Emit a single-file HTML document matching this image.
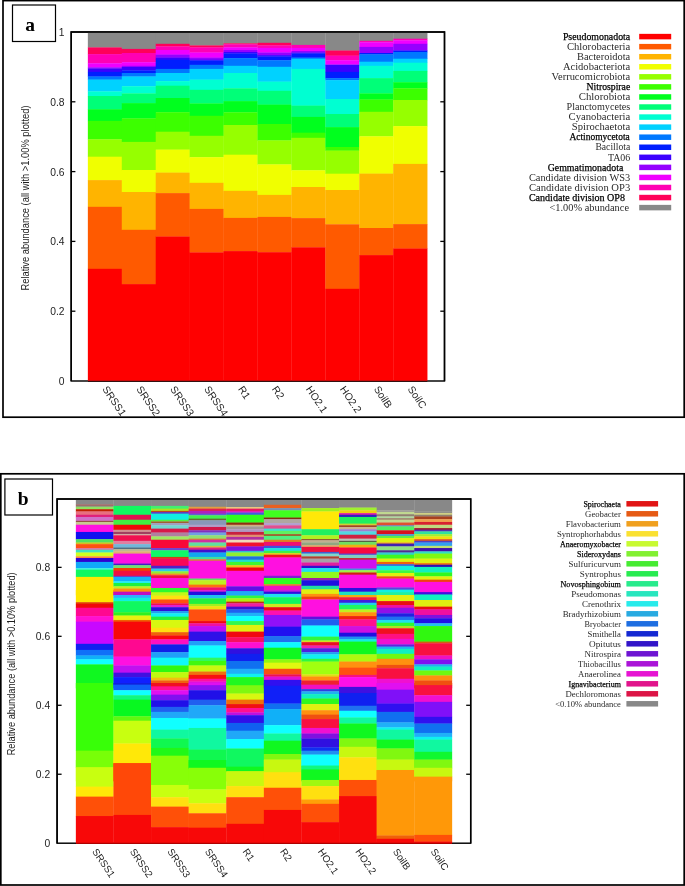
<!DOCTYPE html>
<html lang="en"><head><meta charset="utf-8"><title>Relative abundance</title>
<style>
html,body{margin:0;padding:0;background:#fff;}
body{width:685px;height:886px;overflow:hidden;}
svg{display:block;will-change:transform;}
.sans{font-family:"Liberation Sans",Arial,Helvetica,sans-serif;font-size:10.3px;fill:#1c1c1c;}
.ser{font-family:"Liberation Serif","Times New Roman",serif;font-size:10.2px;fill:#2a2a2a;}
.serb{font-family:"Liberation Serif","Times New Roman",serif;font-size:10.2px;fill:#000;stroke:#000;stroke-width:0.25px;}
.sb{font-size:8.9px;}
.xb{font-size:9.9px;}
.lab{font-family:"Liberation Serif","Times New Roman",serif;font-size:19.5px;font-weight:bold;fill:#000;}
</style></head><body>
<svg width="685" height="886" viewBox="0 0 685 886">
<rect x="0" y="0" width="685" height="886" fill="#fff"/>
<defs><filter id="ba" x="-2%" y="-2%" width="104%" height="104%" color-interpolation-filters="sRGB"><feGaussianBlur stdDeviation="0.4 0.55"/></filter><filter id="bb" x="-2%" y="-2%" width="104%" height="104%" color-interpolation-filters="sRGB"><feGaussianBlur stdDeviation="0.45 0.75"/></filter></defs>
<rect x="3" y="0.6" width="681.2" height="416.6" fill="none" stroke="#000" stroke-width="1.7"/>
<rect x="12.5" y="5" width="43" height="36.5" fill="#fff" stroke="#000" stroke-width="1.2"/>
<text class="lab" x="30" y="31.2" text-anchor="middle">a</text>
<rect x="71.2" y="32.0" width="373.3" height="349.0" fill="none" stroke="#000" stroke-width="1.45"/>
<g filter="url(#ba)">
<rect x="87.85" y="32.60" width="34.23" height="15.10" fill="#888888" />
<rect x="87.85" y="47.40" width="34.23" height="7.00" fill="#ff005a" />
<rect x="87.85" y="54.10" width="34.23" height="9.50" fill="#ff00b4" />
<rect x="87.85" y="63.30" width="34.23" height="4.30" fill="#f000ff" />
<rect x="87.85" y="67.30" width="34.23" height="1.50" fill="#9600ff" />
<rect x="87.85" y="68.50" width="34.23" height="3.70" fill="#3c00ff" />
<rect x="87.85" y="71.90" width="34.23" height="4.90" fill="#001eff" />
<rect x="87.85" y="76.50" width="34.23" height="3.40" fill="#0078ff" />
<rect x="87.85" y="79.60" width="34.23" height="12.10" fill="#00d2ff" />
<rect x="87.85" y="91.40" width="34.23" height="4.90" fill="#00ffd2" />
<rect x="87.85" y="96.00" width="34.23" height="13.50" fill="#00ff78" />
<rect x="87.85" y="109.20" width="34.23" height="12.00" fill="#00ff1e" />
<rect x="87.85" y="120.90" width="34.23" height="18.70" fill="#3cff00" />
<rect x="87.85" y="139.30" width="34.23" height="17.70" fill="#96ff00" />
<rect x="87.85" y="156.70" width="34.23" height="23.70" fill="#f0ff00" />
<rect x="87.85" y="180.10" width="34.23" height="27.00" fill="#ffb400" />
<rect x="87.85" y="206.80" width="34.23" height="62.30" fill="#ff5a00" />
<rect x="87.85" y="268.80" width="34.23" height="112.05" fill="#ff0000" />
<rect x="121.78" y="32.60" width="34.23" height="16.60" fill="#888888" />
<rect x="121.78" y="48.90" width="34.23" height="4.40" fill="#ff005a" />
<rect x="121.78" y="53.00" width="34.23" height="9.50" fill="#ff00b4" />
<rect x="121.78" y="62.20" width="34.23" height="3.90" fill="#f000ff" />
<rect x="121.78" y="65.80" width="34.23" height="1.50" fill="#9600ff" />
<rect x="121.78" y="67.00" width="34.23" height="3.70" fill="#3c00ff" />
<rect x="121.78" y="70.40" width="34.23" height="2.90" fill="#001eff" />
<rect x="121.78" y="73.00" width="34.23" height="3.80" fill="#0078ff" />
<rect x="121.78" y="76.50" width="34.23" height="10.00" fill="#00d2ff" />
<rect x="121.78" y="86.20" width="34.23" height="7.50" fill="#00ffd2" />
<rect x="121.78" y="93.40" width="34.23" height="10.00" fill="#00ff78" />
<rect x="121.78" y="103.10" width="34.23" height="15.60" fill="#00ff1e" />
<rect x="121.78" y="118.40" width="34.23" height="23.80" fill="#3cff00" />
<rect x="121.78" y="141.90" width="34.23" height="28.40" fill="#96ff00" />
<rect x="121.78" y="170.00" width="34.23" height="22.30" fill="#f0ff00" />
<rect x="121.78" y="192.00" width="34.23" height="38.10" fill="#ffb400" />
<rect x="121.78" y="229.80" width="34.23" height="54.60" fill="#ff5a00" />
<rect x="121.78" y="284.10" width="34.23" height="96.75" fill="#ff0000" />
<rect x="155.71" y="32.60" width="34.23" height="11.50" fill="#888888" />
<rect x="155.71" y="43.80" width="34.23" height="2.90" fill="#ff005a" />
<rect x="155.71" y="46.40" width="34.23" height="3.90" fill="#ff00b4" />
<rect x="155.71" y="50.00" width="34.23" height="4.90" fill="#f000ff" />
<rect x="155.71" y="54.60" width="34.23" height="3.30" fill="#9600ff" />
<rect x="155.71" y="57.60" width="34.23" height="2.40" fill="#3c00ff" />
<rect x="155.71" y="59.70" width="34.23" height="9.50" fill="#001eff" />
<rect x="155.71" y="68.90" width="34.23" height="4.40" fill="#0078ff" />
<rect x="155.71" y="73.00" width="34.23" height="8.40" fill="#00d2ff" />
<rect x="155.71" y="81.10" width="34.23" height="4.90" fill="#00ffd2" />
<rect x="155.71" y="85.70" width="34.23" height="12.60" fill="#00ff78" />
<rect x="155.71" y="98.00" width="34.23" height="14.50" fill="#00ff1e" />
<rect x="155.71" y="112.20" width="34.23" height="19.80" fill="#3cff00" />
<rect x="155.71" y="131.70" width="34.23" height="18.20" fill="#96ff00" />
<rect x="155.71" y="149.60" width="34.23" height="23.30" fill="#f0ff00" />
<rect x="155.71" y="172.60" width="34.23" height="20.80" fill="#ffb400" />
<rect x="155.71" y="193.10" width="34.23" height="43.70" fill="#ff5a00" />
<rect x="155.71" y="236.50" width="34.23" height="144.35" fill="#ff0000" />
<rect x="189.64" y="32.60" width="34.23" height="13.10" fill="#888888" />
<rect x="189.64" y="45.40" width="34.23" height="2.30" fill="#ff005a" />
<rect x="189.64" y="47.40" width="34.23" height="5.40" fill="#ff00b4" />
<rect x="189.64" y="52.50" width="34.23" height="5.40" fill="#f000ff" />
<rect x="189.64" y="57.60" width="34.23" height="2.40" fill="#9600ff" />
<rect x="189.64" y="59.70" width="34.23" height="1.10" fill="#3c00ff" />
<rect x="189.64" y="60.50" width="34.23" height="4.60" fill="#001eff" />
<rect x="189.64" y="64.80" width="34.23" height="4.40" fill="#0078ff" />
<rect x="189.64" y="68.90" width="34.23" height="11.00" fill="#00d2ff" />
<rect x="189.64" y="79.60" width="34.23" height="10.50" fill="#00ffd2" />
<rect x="189.64" y="89.80" width="34.23" height="13.90" fill="#00ff78" />
<rect x="189.64" y="103.40" width="34.23" height="12.70" fill="#00ff1e" />
<rect x="189.64" y="115.80" width="34.23" height="20.30" fill="#3cff00" />
<rect x="189.64" y="135.80" width="34.23" height="21.70" fill="#96ff00" />
<rect x="189.64" y="157.20" width="34.23" height="25.90" fill="#f0ff00" />
<rect x="189.64" y="182.80" width="34.23" height="26.40" fill="#ffb400" />
<rect x="189.64" y="208.90" width="34.23" height="43.80" fill="#ff5a00" />
<rect x="189.64" y="252.40" width="34.23" height="128.45" fill="#ff0000" />
<rect x="223.57" y="32.60" width="34.23" height="11.00" fill="#888888" />
<rect x="223.57" y="43.30" width="34.23" height="1.30" fill="#ff005a" />
<rect x="223.57" y="44.30" width="34.23" height="3.40" fill="#ff00b4" />
<rect x="223.57" y="47.40" width="34.23" height="2.90" fill="#f000ff" />
<rect x="223.57" y="50.00" width="34.23" height="2.30" fill="#9600ff" />
<rect x="223.57" y="52.00" width="34.23" height="1.80" fill="#3c00ff" />
<rect x="223.57" y="53.50" width="34.23" height="4.90" fill="#001eff" />
<rect x="223.57" y="58.10" width="34.23" height="8.00" fill="#0078ff" />
<rect x="223.57" y="65.80" width="34.23" height="7.50" fill="#00d2ff" />
<rect x="223.57" y="73.00" width="34.23" height="15.60" fill="#00ffd2" />
<rect x="223.57" y="88.30" width="34.23" height="13.10" fill="#00ff78" />
<rect x="223.57" y="101.10" width="34.23" height="11.50" fill="#00ff1e" />
<rect x="223.57" y="112.30" width="34.23" height="13.00" fill="#3cff00" />
<rect x="223.57" y="125.00" width="34.23" height="30.00" fill="#96ff00" />
<rect x="223.57" y="154.70" width="34.23" height="36.40" fill="#f0ff00" />
<rect x="223.57" y="190.80" width="34.23" height="27.40" fill="#ffb400" />
<rect x="223.57" y="217.90" width="34.23" height="33.50" fill="#ff5a00" />
<rect x="223.57" y="251.10" width="34.23" height="129.75" fill="#ff0000" />
<rect x="257.50" y="32.60" width="34.23" height="10.50" fill="#888888" />
<rect x="257.50" y="42.80" width="34.23" height="2.90" fill="#ff005a" />
<rect x="257.50" y="45.40" width="34.23" height="2.80" fill="#ff00b4" />
<rect x="257.50" y="47.90" width="34.23" height="4.90" fill="#f000ff" />
<rect x="257.50" y="52.50" width="34.23" height="2.90" fill="#9600ff" />
<rect x="257.50" y="55.10" width="34.23" height="1.70" fill="#3c00ff" />
<rect x="257.50" y="56.50" width="34.23" height="4.00" fill="#001eff" />
<rect x="257.50" y="60.20" width="34.23" height="6.90" fill="#0078ff" />
<rect x="257.50" y="66.80" width="34.23" height="15.10" fill="#00d2ff" />
<rect x="257.50" y="81.60" width="34.23" height="9.50" fill="#00ffd2" />
<rect x="257.50" y="90.80" width="34.23" height="14.10" fill="#00ff78" />
<rect x="257.50" y="104.60" width="34.23" height="19.70" fill="#00ff1e" />
<rect x="257.50" y="124.00" width="34.23" height="16.70" fill="#3cff00" />
<rect x="257.50" y="140.40" width="34.23" height="24.30" fill="#96ff00" />
<rect x="257.50" y="164.40" width="34.23" height="30.80" fill="#f0ff00" />
<rect x="257.50" y="194.90" width="34.23" height="22.30" fill="#ffb400" />
<rect x="257.50" y="216.90" width="34.23" height="35.60" fill="#ff5a00" />
<rect x="257.50" y="252.20" width="34.23" height="128.65" fill="#ff0000" />
<rect x="291.43" y="32.60" width="34.23" height="12.60" fill="#888888" />
<rect x="291.43" y="44.90" width="34.23" height="3.30" fill="#ff00b4" />
<rect x="291.43" y="47.90" width="34.23" height="3.40" fill="#f000ff" />
<rect x="291.43" y="51.00" width="34.23" height="1.80" fill="#9600ff" />
<rect x="291.43" y="52.50" width="34.23" height="1.30" fill="#3c00ff" />
<rect x="291.43" y="53.50" width="34.23" height="4.40" fill="#001eff" />
<rect x="291.43" y="57.60" width="34.23" height="1.40" fill="#0078ff" />
<rect x="291.43" y="58.70" width="34.23" height="10.50" fill="#00d2ff" />
<rect x="291.43" y="68.90" width="34.23" height="37.00" fill="#00ffd2" />
<rect x="291.43" y="105.60" width="34.23" height="11.60" fill="#00ff78" />
<rect x="291.43" y="116.90" width="34.23" height="16.10" fill="#00ff1e" />
<rect x="291.43" y="132.70" width="34.23" height="5.40" fill="#3cff00" />
<rect x="291.43" y="137.80" width="34.23" height="32.80" fill="#96ff00" />
<rect x="291.43" y="170.30" width="34.23" height="17.00" fill="#f0ff00" />
<rect x="291.43" y="187.00" width="34.23" height="31.40" fill="#ffb400" />
<rect x="291.43" y="218.10" width="34.23" height="29.50" fill="#ff5a00" />
<rect x="291.43" y="247.30" width="34.23" height="133.55" fill="#ff0000" />
<rect x="325.36" y="32.60" width="34.23" height="18.20" fill="#888888" />
<rect x="325.36" y="50.50" width="34.23" height="5.40" fill="#ff005a" />
<rect x="325.36" y="55.60" width="34.23" height="4.90" fill="#ff00b4" />
<rect x="325.36" y="60.20" width="34.23" height="4.40" fill="#f000ff" />
<rect x="325.36" y="64.30" width="34.23" height="1.00" fill="#9600ff" />
<rect x="325.36" y="65.00" width="34.23" height="7.20" fill="#3c00ff" />
<rect x="325.36" y="71.90" width="34.23" height="6.50" fill="#001eff" />
<rect x="325.36" y="78.10" width="34.23" height="2.30" fill="#0078ff" />
<rect x="325.36" y="80.10" width="34.23" height="19.20" fill="#00d2ff" />
<rect x="325.36" y="99.00" width="34.23" height="15.30" fill="#00ffd2" />
<rect x="325.36" y="114.00" width="34.23" height="13.40" fill="#00ff78" />
<rect x="325.36" y="127.10" width="34.23" height="20.20" fill="#00ff1e" />
<rect x="325.36" y="147.00" width="34.23" height="3.90" fill="#3cff00" />
<rect x="325.36" y="150.60" width="34.23" height="23.40" fill="#96ff00" />
<rect x="325.36" y="173.70" width="34.23" height="16.60" fill="#f0ff00" />
<rect x="325.36" y="190.00" width="34.23" height="34.60" fill="#ffb400" />
<rect x="325.36" y="224.30" width="34.23" height="64.80" fill="#ff5a00" />
<rect x="325.36" y="288.80" width="34.23" height="92.05" fill="#ff0000" />
<rect x="359.29" y="32.60" width="34.23" height="8.50" fill="#888888" />
<rect x="359.29" y="40.80" width="34.23" height="1.80" fill="#ff00b4" />
<rect x="359.29" y="42.30" width="34.23" height="4.90" fill="#f000ff" />
<rect x="359.29" y="46.90" width="34.23" height="6.40" fill="#9600ff" />
<rect x="359.29" y="53.00" width="34.23" height="1.70" fill="#001eff" />
<rect x="359.29" y="54.40" width="34.23" height="7.60" fill="#0078ff" />
<rect x="359.29" y="61.70" width="34.23" height="4.40" fill="#00d2ff" />
<rect x="359.29" y="65.80" width="34.23" height="12.60" fill="#00ffd2" />
<rect x="359.29" y="78.10" width="34.23" height="15.60" fill="#00ff78" />
<rect x="359.29" y="93.40" width="34.23" height="6.40" fill="#00ff1e" />
<rect x="359.29" y="99.50" width="34.23" height="12.60" fill="#3cff00" />
<rect x="359.29" y="111.80" width="34.23" height="24.80" fill="#96ff00" />
<rect x="359.29" y="136.30" width="34.23" height="37.60" fill="#f0ff00" />
<rect x="359.29" y="173.60" width="34.23" height="54.70" fill="#ffb400" />
<rect x="359.29" y="228.00" width="34.23" height="27.40" fill="#ff5a00" />
<rect x="359.29" y="255.10" width="34.23" height="125.75" fill="#ff0000" />
<rect x="393.22" y="32.60" width="34.23" height="6.40" fill="#888888" />
<rect x="393.22" y="38.70" width="34.23" height="1.90" fill="#ff00b4" />
<rect x="393.22" y="40.30" width="34.23" height="3.80" fill="#f000ff" />
<rect x="393.22" y="43.80" width="34.23" height="7.00" fill="#9600ff" />
<rect x="393.22" y="50.50" width="34.23" height="1.80" fill="#001eff" />
<rect x="393.22" y="52.00" width="34.23" height="7.00" fill="#0078ff" />
<rect x="393.22" y="58.70" width="34.23" height="4.30" fill="#00d2ff" />
<rect x="393.22" y="62.70" width="34.23" height="8.50" fill="#00ffd2" />
<rect x="393.22" y="70.90" width="34.23" height="11.60" fill="#00ff78" />
<rect x="393.22" y="82.20" width="34.23" height="6.40" fill="#00ff1e" />
<rect x="393.22" y="88.30" width="34.23" height="12.00" fill="#3cff00" />
<rect x="393.22" y="100.00" width="34.23" height="26.40" fill="#96ff00" />
<rect x="393.22" y="126.10" width="34.23" height="38.10" fill="#f0ff00" />
<rect x="393.22" y="163.90" width="34.23" height="60.50" fill="#ffb400" />
<rect x="393.22" y="224.10" width="34.23" height="24.70" fill="#ff5a00" />
<rect x="393.22" y="248.50" width="34.23" height="132.35" fill="#ff0000" />
</g>
<path d="M71.2,381.0 L71.2,32.0 L444.5,32.0 L444.5,381.0" fill="none" stroke="#000" stroke-width="1.45"/>
<line x1="88.00" y1="381.35" x2="427.30" y2="381.35" stroke="#300000" stroke-width="0.9"/>
<text class="sans" x="64.6" y="384.90" text-anchor="end">0</text>
<line x1="71.20" y1="311.20" x2="75.40" y2="311.20" stroke="#000" stroke-width="1.3"/>
<line x1="444.50" y1="311.20" x2="440.30" y2="311.20" stroke="#000" stroke-width="1.3"/>
<text class="sans" x="64.6" y="315.10" text-anchor="end">0.2</text>
<line x1="71.20" y1="241.40" x2="75.40" y2="241.40" stroke="#000" stroke-width="1.3"/>
<line x1="444.50" y1="241.40" x2="440.30" y2="241.40" stroke="#000" stroke-width="1.3"/>
<text class="sans" x="64.6" y="245.30" text-anchor="end">0.4</text>
<line x1="71.20" y1="171.60" x2="75.40" y2="171.60" stroke="#000" stroke-width="1.3"/>
<line x1="444.50" y1="171.60" x2="440.30" y2="171.60" stroke="#000" stroke-width="1.3"/>
<text class="sans" x="64.6" y="175.50" text-anchor="end">0.6</text>
<line x1="71.20" y1="101.80" x2="75.40" y2="101.80" stroke="#000" stroke-width="1.3"/>
<line x1="444.50" y1="101.80" x2="440.30" y2="101.80" stroke="#000" stroke-width="1.3"/>
<text class="sans" x="64.6" y="105.70" text-anchor="end">0.8</text>
<text class="sans" x="64.6" y="35.90" text-anchor="end">1</text>
<text class="sans" transform="translate(28.9,198) rotate(-90)" text-anchor="middle" textLength="185" lengthAdjust="spacingAndGlyphs">Relative abundance (all with &gt;1.00% plotted)</text>
<text class="sans" transform="translate(101.97,389.00) rotate(56)" >SRSS1</text>
<text class="sans" transform="translate(135.90,389.00) rotate(56)" >SRSS2</text>
<text class="sans" transform="translate(169.82,389.00) rotate(56)" >SRSS3</text>
<text class="sans" transform="translate(203.75,389.00) rotate(56)" >SRSS4</text>
<text class="sans" transform="translate(237.69,389.00) rotate(56)" >R1</text>
<text class="sans" transform="translate(271.62,389.00) rotate(56)" >R2</text>
<text class="sans" transform="translate(305.54,389.00) rotate(56)" >HO2.1</text>
<text class="sans" transform="translate(339.48,389.00) rotate(56)" >HO2.2</text>
<text class="sans" transform="translate(373.40,389.00) rotate(56)" >SoilB</text>
<text class="sans" transform="translate(407.34,389.00) rotate(56)" >SoilC</text>
<rect x="639.20" y="33.85" width="32.00" height="5.50" fill="#ff0000" />
<text class="serb" x="630.2" y="39.80" text-anchor="end" textLength="67.3" lengthAdjust="spacingAndGlyphs">Pseudomonadota</text>
<rect x="639.20" y="43.91" width="32.00" height="5.50" fill="#ff5a00" />
<text class="ser" x="630.2" y="49.86" text-anchor="end" textLength="63.3" lengthAdjust="spacingAndGlyphs">Chlorobacteria</text>
<rect x="639.20" y="53.97" width="32.00" height="5.50" fill="#ffb400" />
<text class="ser" x="630.2" y="59.92" text-anchor="end" textLength="53.2" lengthAdjust="spacingAndGlyphs">Bacteroidota</text>
<rect x="639.20" y="64.03" width="32.00" height="5.50" fill="#f0ff00" />
<text class="ser" x="630.2" y="69.98" text-anchor="end" textLength="67.3" lengthAdjust="spacingAndGlyphs">Acidobacteriota</text>
<rect x="639.20" y="74.09" width="32.00" height="5.50" fill="#96ff00" />
<text class="ser" x="630.2" y="80.04" text-anchor="end" textLength="78.6" lengthAdjust="spacingAndGlyphs">Verrucomicrobiota</text>
<rect x="639.20" y="84.15" width="32.00" height="5.50" fill="#3cff00" />
<text class="serb" x="630.2" y="90.10" text-anchor="end" textLength="43.6" lengthAdjust="spacingAndGlyphs">Nitrospirae</text>
<rect x="639.20" y="94.21" width="32.00" height="5.50" fill="#00ff1e" />
<text class="ser" x="630.2" y="100.16" text-anchor="end" textLength="51.5" lengthAdjust="spacingAndGlyphs">Chlorobiota</text>
<rect x="639.20" y="104.27" width="32.00" height="5.50" fill="#00ff78" />
<text class="ser" x="630.2" y="110.22" text-anchor="end" textLength="63.7" lengthAdjust="spacingAndGlyphs">Planctomycetes</text>
<rect x="639.20" y="114.33" width="32.00" height="5.50" fill="#00ffd2" />
<text class="ser" x="630.2" y="120.28" text-anchor="end" textLength="61.6" lengthAdjust="spacingAndGlyphs">Cyanobacteria</text>
<rect x="639.20" y="124.39" width="32.00" height="5.50" fill="#00d2ff" />
<text class="ser" x="630.2" y="130.34" text-anchor="end" textLength="58.4" lengthAdjust="spacingAndGlyphs">Spirochaetota</text>
<rect x="639.20" y="134.45" width="32.00" height="5.50" fill="#0078ff" />
<text class="serb" x="629.8" y="140.40" text-anchor="end" textLength="60.4" lengthAdjust="spacingAndGlyphs">Actinomycetota</text>
<rect x="639.20" y="144.51" width="32.00" height="5.50" fill="#001eff" />
<text class="ser" x="630.2" y="150.46" text-anchor="end" textLength="34.8" lengthAdjust="spacingAndGlyphs">Bacillota</text>
<rect x="639.20" y="154.57" width="32.00" height="5.50" fill="#3c00ff" />
<text class="ser" x="630.2" y="160.52" text-anchor="end" textLength="22.3" lengthAdjust="spacingAndGlyphs">TA06</text>
<rect x="639.20" y="164.63" width="32.00" height="5.50" fill="#9600ff" />
<text class="serb" x="623.3" y="170.58" text-anchor="end" textLength="75.6" lengthAdjust="spacingAndGlyphs">Gemmatimonadota</text>
<rect x="639.20" y="174.69" width="32.00" height="5.50" fill="#f000ff" />
<text class="ser" x="630.2" y="180.64" text-anchor="end" textLength="101.3" lengthAdjust="spacingAndGlyphs">Candidate division WS3</text>
<rect x="639.20" y="184.75" width="32.00" height="5.50" fill="#ff00b4" />
<text class="ser" x="630.2" y="190.70" text-anchor="end" textLength="101.3" lengthAdjust="spacingAndGlyphs">Candidate division OP3</text>
<rect x="639.20" y="194.81" width="32.00" height="5.50" fill="#ff005a" />
<text class="serb" x="625.0" y="200.76" text-anchor="end" textLength="96.1" lengthAdjust="spacingAndGlyphs">Candidate division OP8</text>
<rect x="639.20" y="204.87" width="32.00" height="5.50" fill="#888888" />
<text class="ser" x="629.0" y="210.82" text-anchor="end" textLength="79.5" lengthAdjust="spacingAndGlyphs">&lt;1.00% abundance</text>
<rect x="0.8" y="473.8" width="683.4" height="411.2" fill="none" stroke="#000" stroke-width="1.7"/>
<rect x="4.9" y="479" width="47.6" height="36" fill="#fff" stroke="#000" stroke-width="1.2"/>
<text class="lab" x="23.3" y="504.6" text-anchor="middle">b</text>
<rect x="57.1" y="499.0" width="413.59999999999997" height="344.20000000000005" fill="none" stroke="#000" stroke-width="1.45"/>
<g filter="url(#bb)">
<rect x="75.85" y="499.77" width="37.90" height="4.79" fill="#888888" />
<rect x="75.85" y="504.21" width="37.90" height="2.01" fill="#a06868" />
<rect x="75.85" y="505.88" width="37.90" height="1.46" fill="#90a080" />
<rect x="75.85" y="506.99" width="37.90" height="2.57" fill="#90e060" />
<rect x="75.85" y="509.20" width="37.90" height="2.57" fill="#c02000" />
<rect x="75.85" y="511.42" width="37.90" height="3.68" fill="#e87080" />
<rect x="75.85" y="514.75" width="37.90" height="2.57" fill="#e0207a" />
<rect x="75.85" y="516.97" width="37.90" height="4.23" fill="#d070c8" />
<rect x="75.85" y="520.85" width="37.90" height="1.46" fill="#905040" />
<rect x="75.85" y="521.96" width="37.90" height="3.12" fill="#c8c890" />
<rect x="75.85" y="524.74" width="37.90" height="7.56" fill="#ff10e0" />
<rect x="75.85" y="531.95" width="37.90" height="7.56" fill="#1010f0" />
<rect x="75.85" y="539.16" width="37.90" height="3.68" fill="#50e060" />
<rect x="75.85" y="542.49" width="37.90" height="2.01" fill="#d0c020" />
<rect x="75.85" y="544.15" width="37.90" height="4.23" fill="#ff5010" />
<rect x="75.85" y="548.04" width="37.90" height="2.01" fill="#e070a0" />
<rect x="75.85" y="549.70" width="37.90" height="3.12" fill="#40e0c0" />
<rect x="75.85" y="552.48" width="37.90" height="4.23" fill="#d0ff20" />
<rect x="75.85" y="556.36" width="37.90" height="2.01" fill="#ff8040" />
<rect x="75.85" y="558.02" width="37.90" height="4.23" fill="#3000d0" />
<rect x="75.85" y="561.91" width="37.90" height="6.45" fill="#10a8f8" />
<rect x="75.85" y="568.01" width="37.90" height="2.01" fill="#40f0e0" />
<rect x="75.85" y="569.67" width="37.90" height="7.56" fill="#10f860" />
<rect x="75.85" y="576.88" width="37.90" height="18.43" fill="#ffe800" />
<rect x="75.85" y="590.00" width="37.90" height="12.55" fill="#ffe800" />
<rect x="75.85" y="602.20" width="37.90" height="2.01" fill="#e04000" />
<rect x="75.85" y="603.87" width="37.90" height="4.23" fill="#f00808" />
<rect x="75.85" y="607.75" width="37.90" height="8.67" fill="#ff0890" />
<rect x="75.85" y="616.07" width="37.90" height="5.90" fill="#ff10d0" />
<rect x="75.85" y="621.62" width="37.90" height="22.54" fill="#c808ff" />
<rect x="75.85" y="643.81" width="37.90" height="6.45" fill="#1020f0" />
<rect x="75.85" y="649.91" width="37.90" height="5.90" fill="#1070f8" />
<rect x="75.85" y="655.46" width="37.90" height="4.23" fill="#10b0f8" />
<rect x="75.85" y="659.34" width="37.90" height="5.34" fill="#10ffff" />
<rect x="75.85" y="664.34" width="37.90" height="23.98" fill="#10f820" />
<rect x="75.85" y="683.00" width="37.90" height="68.03" fill="#38ff08" />
<rect x="75.85" y="750.68" width="37.90" height="16.99" fill="#78ff08" />
<rect x="75.85" y="767.32" width="37.90" height="14.00" fill="#c8ff10" />
<rect x="75.85" y="760.00" width="37.90" height="7.56" fill="#78ff08" />
<rect x="75.85" y="767.21" width="37.90" height="19.77" fill="#c8ff10" />
<rect x="75.85" y="786.63" width="37.90" height="10.34" fill="#ffe808" />
<rect x="75.85" y="796.61" width="37.90" height="19.77" fill="#ff5008" />
<rect x="75.85" y="816.03" width="37.90" height="27.02" fill="#f80808" />
<rect x="113.45" y="499.77" width="37.90" height="6.45" fill="#888888" />
<rect x="113.45" y="505.88" width="37.90" height="9.23" fill="#10f860" />
<rect x="113.45" y="514.75" width="37.90" height="5.34" fill="#e01050" />
<rect x="113.45" y="519.74" width="37.90" height="5.34" fill="#40f040" />
<rect x="113.45" y="524.74" width="37.90" height="5.34" fill="#f00808" />
<rect x="113.45" y="529.73" width="37.90" height="2.57" fill="#d09090" />
<rect x="113.45" y="531.95" width="37.90" height="2.57" fill="#a04060" />
<rect x="113.45" y="534.17" width="37.90" height="1.46" fill="#d0b0a0" />
<rect x="113.45" y="535.28" width="37.90" height="5.90" fill="#f01050" />
<rect x="113.45" y="540.83" width="37.90" height="3.68" fill="#e080a0" />
<rect x="113.45" y="544.15" width="37.90" height="3.68" fill="#70b8d8" />
<rect x="113.45" y="547.48" width="37.90" height="2.01" fill="#507080" />
<rect x="113.45" y="549.15" width="37.90" height="2.57" fill="#c0b890" />
<rect x="113.45" y="551.37" width="37.90" height="2.57" fill="#e0b070" />
<rect x="113.45" y="553.58" width="37.90" height="10.34" fill="#ff10e0" />
<rect x="113.45" y="563.57" width="37.90" height="2.01" fill="#4020c0" />
<rect x="113.45" y="565.23" width="37.90" height="3.12" fill="#70e070" />
<rect x="113.45" y="568.01" width="37.90" height="3.12" fill="#f04000" />
<rect x="113.45" y="570.78" width="37.90" height="5.34" fill="#f01040" />
<rect x="113.45" y="575.78" width="37.90" height="1.46" fill="#8030c0" />
<rect x="113.45" y="576.88" width="37.90" height="4.79" fill="#10b0ff" />
<rect x="113.45" y="581.32" width="37.90" height="2.01" fill="#20f0f0" />
<rect x="113.45" y="582.99" width="37.90" height="3.68" fill="#20f040" />
<rect x="113.45" y="586.32" width="37.90" height="2.57" fill="#c0f020" />
<rect x="113.45" y="588.53" width="37.90" height="3.68" fill="#ff9010" />
<rect x="113.45" y="591.86" width="37.90" height="3.46" fill="#c010c0" />
<rect x="113.45" y="590.00" width="37.90" height="2.01" fill="#ff9010" />
<rect x="113.45" y="591.66" width="37.90" height="3.68" fill="#c010c0" />
<rect x="113.45" y="594.99" width="37.90" height="3.12" fill="#30b0ff" />
<rect x="113.45" y="597.77" width="37.90" height="3.68" fill="#10f0e0" />
<rect x="113.45" y="601.10" width="37.90" height="11.45" fill="#10f860" />
<rect x="113.45" y="612.19" width="37.90" height="3.68" fill="#30f020" />
<rect x="113.45" y="615.52" width="37.90" height="4.79" fill="#e8f010" />
<rect x="113.45" y="619.96" width="37.90" height="2.01" fill="#f06000" />
<rect x="113.45" y="621.62" width="37.90" height="18.10" fill="#f80808" />
<rect x="113.45" y="639.37" width="37.90" height="17.55" fill="#ff0890" />
<rect x="113.45" y="656.57" width="37.90" height="9.23" fill="#ff10e0" />
<rect x="113.45" y="665.45" width="37.90" height="7.56" fill="#c010f0" />
<rect x="113.45" y="672.66" width="37.90" height="4.79" fill="#4010e0" />
<rect x="113.45" y="677.10" width="37.90" height="7.01" fill="#1020ff" />
<rect x="113.45" y="683.75" width="37.90" height="4.57" fill="#1060f8" />
<rect x="113.45" y="683.00" width="37.90" height="2.01" fill="#1020e0" />
<rect x="113.45" y="684.66" width="37.90" height="5.90" fill="#1060f8" />
<rect x="113.45" y="690.21" width="37.90" height="5.34" fill="#10ffff" />
<rect x="113.45" y="695.20" width="37.90" height="4.79" fill="#10f880" />
<rect x="113.45" y="699.64" width="37.90" height="16.99" fill="#08f820" />
<rect x="113.45" y="716.29" width="37.90" height="4.79" fill="#60f810" />
<rect x="113.45" y="720.72" width="37.90" height="23.09" fill="#c8ff10" />
<rect x="113.45" y="743.47" width="37.90" height="19.77" fill="#ffe808" />
<rect x="113.45" y="762.88" width="37.90" height="18.43" fill="#ff4808" />
<rect x="113.45" y="760.00" width="37.90" height="3.46" fill="#ffe808" />
<rect x="113.45" y="763.11" width="37.90" height="52.16" fill="#ff4808" />
<rect x="113.45" y="814.92" width="37.90" height="28.13" fill="#f80808" />
<rect x="151.05" y="499.77" width="37.90" height="6.45" fill="#888888" />
<rect x="151.05" y="505.88" width="37.90" height="3.12" fill="#40f070" />
<rect x="151.05" y="508.65" width="37.90" height="2.57" fill="#b0e020" />
<rect x="151.05" y="510.87" width="37.90" height="1.46" fill="#c04020" />
<rect x="151.05" y="511.98" width="37.90" height="2.01" fill="#6040c0" />
<rect x="151.05" y="513.64" width="37.90" height="6.45" fill="#10f0e0" />
<rect x="151.05" y="519.74" width="37.90" height="2.01" fill="#50f040" />
<rect x="151.05" y="521.41" width="37.90" height="2.01" fill="#a06030" />
<rect x="151.05" y="523.07" width="37.90" height="2.57" fill="#a0a0c0" />
<rect x="151.05" y="525.29" width="37.90" height="3.68" fill="#70d8d0" />
<rect x="151.05" y="528.62" width="37.90" height="4.23" fill="#d81848" />
<rect x="151.05" y="532.50" width="37.90" height="4.23" fill="#b080a0" />
<rect x="151.05" y="536.39" width="37.90" height="3.68" fill="#a0e860" />
<rect x="151.05" y="539.72" width="37.90" height="8.67" fill="#f80838" />
<rect x="151.05" y="548.04" width="37.90" height="2.57" fill="#7040d0" />
<rect x="151.05" y="550.26" width="37.90" height="7.01" fill="#10f868" />
<rect x="151.05" y="556.91" width="37.90" height="2.01" fill="#d04010" />
<rect x="151.05" y="558.58" width="37.90" height="7.56" fill="#f80858" />
<rect x="151.05" y="565.79" width="37.90" height="3.12" fill="#5020c8" />
<rect x="151.05" y="568.56" width="37.90" height="3.12" fill="#30c8e8" />
<rect x="151.05" y="571.34" width="37.90" height="2.57" fill="#90f030" />
<rect x="151.05" y="573.56" width="37.90" height="2.01" fill="#f09020" />
<rect x="151.05" y="575.22" width="37.90" height="3.12" fill="#f01040" />
<rect x="151.05" y="577.99" width="37.90" height="10.34" fill="#ff10d8" />
<rect x="151.05" y="587.98" width="37.90" height="7.34" fill="#30f830" />
<rect x="151.05" y="590.00" width="37.90" height="2.57" fill="#30f830" />
<rect x="151.05" y="592.22" width="37.90" height="3.68" fill="#c0f818" />
<rect x="151.05" y="595.55" width="37.90" height="4.23" fill="#ffe010" />
<rect x="151.05" y="599.43" width="37.90" height="4.23" fill="#ff5010" />
<rect x="151.05" y="603.31" width="37.90" height="2.01" fill="#f01050" />
<rect x="151.05" y="604.98" width="37.90" height="2.57" fill="#e020d0" />
<rect x="151.05" y="607.20" width="37.90" height="4.23" fill="#3010d8" />
<rect x="151.05" y="611.08" width="37.90" height="2.57" fill="#20a0f0" />
<rect x="151.05" y="613.30" width="37.90" height="3.68" fill="#10f0f0" />
<rect x="151.05" y="616.63" width="37.90" height="3.68" fill="#20f040" />
<rect x="151.05" y="619.96" width="37.90" height="8.12" fill="#d8f810" />
<rect x="151.05" y="627.72" width="37.90" height="4.79" fill="#ffe010" />
<rect x="151.05" y="632.16" width="37.90" height="3.68" fill="#f06008" />
<rect x="151.05" y="635.49" width="37.90" height="4.23" fill="#f80810" />
<rect x="151.05" y="639.37" width="37.90" height="5.34" fill="#ff10c0" />
<rect x="151.05" y="644.37" width="37.90" height="8.12" fill="#1020e8" />
<rect x="151.05" y="652.13" width="37.90" height="5.90" fill="#20a0f8" />
<rect x="151.05" y="657.68" width="37.90" height="8.12" fill="#10f8f8" />
<rect x="151.05" y="665.45" width="37.90" height="7.01" fill="#30f810" />
<rect x="151.05" y="672.10" width="37.90" height="5.90" fill="#c0f810" />
<rect x="151.05" y="677.65" width="37.90" height="3.12" fill="#f0c010" />
<rect x="151.05" y="680.42" width="37.90" height="3.12" fill="#f06010" />
<rect x="151.05" y="683.20" width="37.90" height="5.12" fill="#f80840" />
<rect x="151.05" y="683.00" width="37.90" height="3.68" fill="#f01020" />
<rect x="151.05" y="686.33" width="37.90" height="4.23" fill="#ff1090" />
<rect x="151.05" y="690.21" width="37.90" height="4.79" fill="#e010f0" />
<rect x="151.05" y="694.65" width="37.90" height="5.90" fill="#8010f0" />
<rect x="151.05" y="700.20" width="37.90" height="7.01" fill="#2010e8" />
<rect x="151.05" y="706.85" width="37.90" height="5.34" fill="#2060f0" />
<rect x="151.05" y="711.85" width="37.90" height="6.45" fill="#20a8f8" />
<rect x="151.05" y="717.95" width="37.90" height="12.00" fill="#10ffff" />
<rect x="151.05" y="729.60" width="37.90" height="9.23" fill="#10f8a0" />
<rect x="151.05" y="738.48" width="37.90" height="9.78" fill="#10f850" />
<rect x="151.05" y="747.91" width="37.90" height="8.12" fill="#20f818" />
<rect x="151.05" y="755.67" width="37.90" height="25.65" fill="#88ff08" />
<rect x="151.05" y="760.00" width="37.90" height="25.31" fill="#88ff08" />
<rect x="151.05" y="784.96" width="37.90" height="12.55" fill="#c8ff10" />
<rect x="151.05" y="797.17" width="37.90" height="9.78" fill="#ffe010" />
<rect x="151.05" y="806.60" width="37.90" height="20.88" fill="#ff5008" />
<rect x="151.05" y="827.13" width="37.90" height="15.92" fill="#f80808" />
<rect x="188.65" y="499.77" width="37.90" height="7.34" fill="#888888" />
<rect x="188.65" y="506.76" width="37.90" height="2.24" fill="#e0a040" />
<rect x="188.65" y="508.65" width="37.90" height="2.57" fill="#e02050" />
<rect x="188.65" y="510.87" width="37.90" height="3.12" fill="#b020c0" />
<rect x="188.65" y="513.64" width="37.90" height="2.01" fill="#6060d0" />
<rect x="188.65" y="515.31" width="37.90" height="3.68" fill="#40f050" />
<rect x="188.65" y="518.64" width="37.90" height="2.01" fill="#607030" />
<rect x="188.65" y="520.30" width="37.90" height="4.79" fill="#8898b8" />
<rect x="188.65" y="524.74" width="37.90" height="2.57" fill="#b0a0c8" />
<rect x="188.65" y="526.96" width="37.90" height="3.68" fill="#d01848" />
<rect x="188.65" y="530.29" width="37.90" height="2.57" fill="#8030c0" />
<rect x="188.65" y="532.50" width="37.90" height="3.12" fill="#70a0e0" />
<rect x="188.65" y="535.28" width="37.90" height="3.68" fill="#90e070" />
<rect x="188.65" y="538.61" width="37.90" height="1.46" fill="#e08030" />
<rect x="188.65" y="539.72" width="37.90" height="3.12" fill="#d030a0" />
<rect x="188.65" y="542.49" width="37.90" height="3.68" fill="#60e0a0" />
<rect x="188.65" y="545.82" width="37.90" height="2.01" fill="#d0c040" />
<rect x="188.65" y="547.48" width="37.90" height="2.57" fill="#e02080" />
<rect x="188.65" y="549.70" width="37.90" height="3.12" fill="#4010d0" />
<rect x="188.65" y="552.48" width="37.90" height="4.79" fill="#10a8f0" />
<rect x="188.65" y="556.91" width="37.90" height="2.57" fill="#40e0a0" />
<rect x="188.65" y="559.13" width="37.90" height="2.01" fill="#d08040" />
<rect x="188.65" y="560.80" width="37.90" height="18.10" fill="#ff10e0" />
<rect x="188.65" y="578.55" width="37.90" height="2.01" fill="#60e060" />
<rect x="188.65" y="580.21" width="37.90" height="4.79" fill="#c0f020" />
<rect x="188.65" y="584.65" width="37.90" height="3.12" fill="#ff7010" />
<rect x="188.65" y="587.42" width="37.90" height="3.12" fill="#f01070" />
<rect x="188.65" y="590.20" width="37.90" height="5.12" fill="#2010e0" />
<rect x="188.65" y="590.00" width="37.90" height="2.01" fill="#e020d0" />
<rect x="188.65" y="591.66" width="37.90" height="3.68" fill="#2010e0" />
<rect x="188.65" y="594.99" width="37.90" height="3.68" fill="#20c0f0" />
<rect x="188.65" y="598.32" width="37.90" height="5.90" fill="#20f040" />
<rect x="188.65" y="603.87" width="37.90" height="2.57" fill="#a0f020" />
<rect x="188.65" y="606.09" width="37.90" height="3.68" fill="#f0e010" />
<rect x="188.65" y="609.42" width="37.90" height="12.00" fill="#ff5010" />
<rect x="188.65" y="621.07" width="37.90" height="2.57" fill="#f00810" />
<rect x="188.65" y="623.29" width="37.90" height="3.12" fill="#f010a0" />
<rect x="188.65" y="626.06" width="37.90" height="5.90" fill="#c010f0" />
<rect x="188.65" y="631.61" width="37.90" height="9.78" fill="#3010e8" />
<rect x="188.65" y="641.04" width="37.90" height="4.79" fill="#20a0f8" />
<rect x="188.65" y="645.48" width="37.90" height="12.55" fill="#10ffff" />
<rect x="188.65" y="657.68" width="37.90" height="3.68" fill="#30f860" />
<rect x="188.65" y="661.01" width="37.90" height="4.79" fill="#40f810" />
<rect x="188.65" y="665.45" width="37.90" height="6.45" fill="#c8f810" />
<rect x="188.65" y="671.55" width="37.90" height="3.68" fill="#f07010" />
<rect x="188.65" y="674.88" width="37.90" height="4.23" fill="#f81010" />
<rect x="188.65" y="678.76" width="37.90" height="3.12" fill="#ff10a0" />
<rect x="188.65" y="681.53" width="37.90" height="2.57" fill="#e010e0" />
<rect x="188.65" y="683.75" width="37.90" height="4.57" fill="#b010f0" />
<rect x="188.65" y="683.00" width="37.90" height="2.57" fill="#e010f0" />
<rect x="188.65" y="685.22" width="37.90" height="5.34" fill="#9010f0" />
<rect x="188.65" y="690.21" width="37.90" height="9.78" fill="#2010e8" />
<rect x="188.65" y="699.64" width="37.90" height="5.90" fill="#2060f0" />
<rect x="188.65" y="705.19" width="37.90" height="13.66" fill="#20a8f8" />
<rect x="188.65" y="718.50" width="37.90" height="9.78" fill="#10ffff" />
<rect x="188.65" y="727.94" width="37.90" height="21.99" fill="#10f8a0" />
<rect x="188.65" y="749.57" width="37.90" height="12.55" fill="#10f850" />
<rect x="188.65" y="761.78" width="37.90" height="7.56" fill="#10f820" />
<rect x="188.65" y="768.99" width="37.90" height="12.33" fill="#88ff08" />
<rect x="188.65" y="760.00" width="37.90" height="8.12" fill="#10f820" />
<rect x="188.65" y="767.77" width="37.90" height="21.99" fill="#88ff08" />
<rect x="188.65" y="789.40" width="37.90" height="14.22" fill="#c8ff10" />
<rect x="188.65" y="803.27" width="37.90" height="10.34" fill="#ffe010" />
<rect x="188.65" y="813.26" width="37.90" height="14.77" fill="#ff5008" />
<rect x="188.65" y="827.68" width="37.90" height="15.37" fill="#f80808" />
<rect x="226.25" y="499.77" width="37.90" height="7.56" fill="#888888" />
<rect x="226.25" y="506.99" width="37.90" height="2.01" fill="#e8c880" />
<rect x="226.25" y="508.65" width="37.90" height="2.57" fill="#e81860" />
<rect x="226.25" y="510.87" width="37.90" height="2.01" fill="#e020c0" />
<rect x="226.25" y="512.53" width="37.90" height="2.57" fill="#4060e0" />
<rect x="226.25" y="514.75" width="37.90" height="8.12" fill="#30ff20" />
<rect x="226.25" y="522.52" width="37.90" height="2.57" fill="#903010" />
<rect x="226.25" y="524.74" width="37.90" height="2.01" fill="#d0b080" />
<rect x="226.25" y="526.40" width="37.90" height="3.12" fill="#a09898" />
<rect x="226.25" y="529.18" width="37.90" height="3.12" fill="#b098c0" />
<rect x="226.25" y="531.95" width="37.90" height="3.12" fill="#c82040" />
<rect x="226.25" y="534.72" width="37.90" height="2.57" fill="#e09070" />
<rect x="226.25" y="536.94" width="37.90" height="3.12" fill="#b030a0" />
<rect x="226.25" y="539.72" width="37.90" height="3.12" fill="#f0d8b8" />
<rect x="226.25" y="542.49" width="37.90" height="4.23" fill="#f01030" />
<rect x="226.25" y="546.37" width="37.90" height="4.79" fill="#8010e0" />
<rect x="226.25" y="550.81" width="37.90" height="2.01" fill="#30c0d0" />
<rect x="226.25" y="552.48" width="37.90" height="4.23" fill="#90f030" />
<rect x="226.25" y="556.36" width="37.90" height="3.68" fill="#2070e0" />
<rect x="226.25" y="559.69" width="37.90" height="2.57" fill="#20e0d0" />
<rect x="226.25" y="561.91" width="37.90" height="3.68" fill="#40f830" />
<rect x="226.25" y="565.23" width="37.90" height="2.57" fill="#f0c010" />
<rect x="226.25" y="567.45" width="37.90" height="3.68" fill="#f00810" />
<rect x="226.25" y="570.78" width="37.90" height="15.88" fill="#ff10e0" />
<rect x="226.25" y="586.32" width="37.90" height="4.23" fill="#6010e8" />
<rect x="226.25" y="590.20" width="37.90" height="5.12" fill="#20a8f8" />
<rect x="226.25" y="590.00" width="37.90" height="1.46" fill="#6010e8" />
<rect x="226.25" y="591.11" width="37.90" height="4.79" fill="#20a8f8" />
<rect x="226.25" y="595.55" width="37.90" height="3.12" fill="#30f840" />
<rect x="226.25" y="598.32" width="37.90" height="3.68" fill="#b0f010" />
<rect x="226.25" y="601.65" width="37.90" height="2.01" fill="#c03010" />
<rect x="226.25" y="603.31" width="37.90" height="3.68" fill="#f020a0" />
<rect x="226.25" y="606.64" width="37.90" height="3.12" fill="#4010d0" />
<rect x="226.25" y="609.42" width="37.90" height="3.68" fill="#2060f0" />
<rect x="226.25" y="612.74" width="37.90" height="3.68" fill="#20b0f8" />
<rect x="226.25" y="616.07" width="37.90" height="5.34" fill="#10ffff" />
<rect x="226.25" y="621.07" width="37.90" height="4.23" fill="#30f850" />
<rect x="226.25" y="624.95" width="37.90" height="7.01" fill="#e0f010" />
<rect x="226.25" y="631.61" width="37.90" height="5.90" fill="#f00810" />
<rect x="226.25" y="637.15" width="37.90" height="5.34" fill="#f81060" />
<rect x="226.25" y="642.15" width="37.90" height="6.45" fill="#ff10d0" />
<rect x="226.25" y="648.25" width="37.90" height="5.90" fill="#3010e0" />
<rect x="226.25" y="653.80" width="37.90" height="7.56" fill="#1020f0" />
<rect x="226.25" y="661.01" width="37.90" height="8.12" fill="#1070f0" />
<rect x="226.25" y="668.78" width="37.90" height="5.34" fill="#20b0f8" />
<rect x="226.25" y="673.77" width="37.90" height="3.68" fill="#10f0f0" />
<rect x="226.25" y="677.10" width="37.90" height="11.22" fill="#20f820" />
<rect x="226.25" y="683.00" width="37.90" height="2.57" fill="#20f820" />
<rect x="226.25" y="685.22" width="37.90" height="8.67" fill="#80f810" />
<rect x="226.25" y="693.54" width="37.90" height="6.45" fill="#d8f810" />
<rect x="226.25" y="699.64" width="37.90" height="4.79" fill="#f07008" />
<rect x="226.25" y="704.08" width="37.90" height="4.23" fill="#f01010" />
<rect x="226.25" y="707.96" width="37.90" height="4.79" fill="#ff1090" />
<rect x="226.25" y="712.40" width="37.90" height="3.12" fill="#c010e0" />
<rect x="226.25" y="715.18" width="37.90" height="8.12" fill="#3010e8" />
<rect x="226.25" y="722.94" width="37.90" height="8.12" fill="#1060f0" />
<rect x="226.25" y="730.71" width="37.90" height="8.67" fill="#20a8f8" />
<rect x="226.25" y="739.03" width="37.90" height="9.78" fill="#10ffff" />
<rect x="226.25" y="748.46" width="37.90" height="19.21" fill="#10f860" />
<rect x="226.25" y="767.32" width="37.90" height="4.79" fill="#10f820" />
<rect x="226.25" y="771.76" width="37.90" height="9.56" fill="#c0f810" />
<rect x="226.25" y="760.00" width="37.90" height="7.01" fill="#10f860" />
<rect x="226.25" y="766.66" width="37.90" height="4.79" fill="#10f820" />
<rect x="226.25" y="771.10" width="37.90" height="15.33" fill="#c8f810" />
<rect x="226.25" y="786.07" width="37.90" height="11.45" fill="#ffe010" />
<rect x="226.25" y="797.17" width="37.90" height="26.98" fill="#ff5008" />
<rect x="226.25" y="823.80" width="37.90" height="19.25" fill="#f80808" />
<rect x="263.85" y="499.77" width="37.90" height="5.34" fill="#888888" />
<rect x="263.85" y="504.77" width="37.90" height="3.68" fill="#e86020" />
<rect x="263.85" y="508.10" width="37.90" height="2.57" fill="#7890b0" />
<rect x="263.85" y="510.31" width="37.90" height="7.56" fill="#40ff20" />
<rect x="263.85" y="517.53" width="37.90" height="2.01" fill="#803010" />
<rect x="263.85" y="519.19" width="37.90" height="4.23" fill="#b0a8a0" />
<rect x="263.85" y="523.07" width="37.90" height="2.57" fill="#b0a0d0" />
<rect x="263.85" y="525.29" width="37.90" height="3.68" fill="#e05090" />
<rect x="263.85" y="528.62" width="37.90" height="2.57" fill="#40e0d0" />
<rect x="263.85" y="530.84" width="37.90" height="3.68" fill="#60f060" />
<rect x="263.85" y="534.17" width="37.90" height="2.01" fill="#a05020" />
<rect x="263.85" y="535.83" width="37.90" height="4.23" fill="#50f080" />
<rect x="263.85" y="539.72" width="37.90" height="2.57" fill="#e08020" />
<rect x="263.85" y="541.94" width="37.90" height="4.23" fill="#f01070" />
<rect x="263.85" y="545.82" width="37.90" height="2.57" fill="#4050e0" />
<rect x="263.85" y="548.04" width="37.90" height="3.12" fill="#20e0e0" />
<rect x="263.85" y="550.81" width="37.90" height="2.57" fill="#40f040" />
<rect x="263.85" y="553.03" width="37.90" height="2.01" fill="#e0d020" />
<rect x="263.85" y="554.69" width="37.90" height="3.12" fill="#f01020" />
<rect x="263.85" y="557.47" width="37.90" height="18.66" fill="#ff10e0" />
<rect x="263.85" y="575.78" width="37.90" height="2.57" fill="#8020d0" />
<rect x="263.85" y="577.99" width="37.90" height="6.45" fill="#30ff20" />
<rect x="263.85" y="584.10" width="37.90" height="2.01" fill="#e08030" />
<rect x="263.85" y="585.76" width="37.90" height="5.34" fill="#f010c0" />
<rect x="263.85" y="590.75" width="37.90" height="4.57" fill="#3010e0" />
<rect x="263.85" y="590.00" width="37.90" height="2.01" fill="#c020e0" />
<rect x="263.85" y="591.66" width="37.90" height="2.57" fill="#3010e0" />
<rect x="263.85" y="593.88" width="37.90" height="3.68" fill="#20e0f0" />
<rect x="263.85" y="597.21" width="37.90" height="7.01" fill="#10f860" />
<rect x="263.85" y="603.87" width="37.90" height="3.68" fill="#d0e820" />
<rect x="263.85" y="607.20" width="37.90" height="3.68" fill="#e81010" />
<rect x="263.85" y="610.53" width="37.90" height="4.79" fill="#ff10b0" />
<rect x="263.85" y="614.96" width="37.90" height="12.00" fill="#9010f8" />
<rect x="263.85" y="626.61" width="37.90" height="9.78" fill="#2010f0" />
<rect x="263.85" y="636.04" width="37.90" height="6.45" fill="#2070f0" />
<rect x="263.85" y="642.15" width="37.90" height="5.90" fill="#10f8ff" />
<rect x="263.85" y="647.69" width="37.90" height="12.00" fill="#10f820" />
<rect x="263.85" y="659.34" width="37.90" height="3.68" fill="#90f810" />
<rect x="263.85" y="662.67" width="37.90" height="6.45" fill="#e0f810" />
<rect x="263.85" y="668.78" width="37.90" height="5.90" fill="#f85010" />
<rect x="263.85" y="674.32" width="37.90" height="2.57" fill="#f01050" />
<rect x="263.85" y="676.54" width="37.90" height="3.68" fill="#e010d0" />
<rect x="263.85" y="679.87" width="37.90" height="8.45" fill="#3010f0" />
<rect x="263.85" y="683.00" width="37.90" height="3.12" fill="#3010f0" />
<rect x="263.85" y="685.77" width="37.90" height="18.10" fill="#1020f8" />
<rect x="263.85" y="703.53" width="37.90" height="5.90" fill="#1070f0" />
<rect x="263.85" y="709.07" width="37.90" height="16.44" fill="#10b0f8" />
<rect x="263.85" y="725.16" width="37.90" height="8.67" fill="#10ffff" />
<rect x="263.85" y="733.48" width="37.90" height="7.56" fill="#10f8a0" />
<rect x="263.85" y="740.69" width="37.90" height="13.66" fill="#10f820" />
<rect x="263.85" y="754.01" width="37.90" height="5.90" fill="#80f810" />
<rect x="263.85" y="759.56" width="37.90" height="13.66" fill="#c8f810" />
<rect x="263.85" y="772.87" width="37.90" height="8.45" fill="#ffe010" />
<rect x="263.85" y="760.00" width="37.90" height="12.55" fill="#c8f810" />
<rect x="263.85" y="772.20" width="37.90" height="15.88" fill="#ffe010" />
<rect x="263.85" y="787.74" width="37.90" height="22.54" fill="#ff5008" />
<rect x="263.85" y="809.93" width="37.90" height="33.12" fill="#f80808" />
<rect x="301.45" y="499.77" width="37.90" height="8.67" fill="#888888" />
<rect x="301.45" y="508.10" width="37.90" height="3.68" fill="#a0f020" />
<rect x="301.45" y="511.42" width="37.90" height="18.10" fill="#ffe808" />
<rect x="301.45" y="529.18" width="37.90" height="6.45" fill="#20f060" />
<rect x="301.45" y="535.28" width="37.90" height="4.23" fill="#b0f020" />
<rect x="301.45" y="539.16" width="37.90" height="1.46" fill="#804020" />
<rect x="301.45" y="540.27" width="37.90" height="2.57" fill="#c0b090" />
<rect x="301.45" y="542.49" width="37.90" height="3.12" fill="#90a880" />
<rect x="301.45" y="545.26" width="37.90" height="2.01" fill="#e0a060" />
<rect x="301.45" y="546.93" width="37.90" height="5.34" fill="#f01040" />
<rect x="301.45" y="551.92" width="37.90" height="2.01" fill="#4060d0" />
<rect x="301.45" y="553.58" width="37.90" height="3.12" fill="#80d8c8" />
<rect x="301.45" y="556.36" width="37.90" height="2.57" fill="#b04030" />
<rect x="301.45" y="558.58" width="37.90" height="4.23" fill="#a8a0a8" />
<rect x="301.45" y="562.46" width="37.90" height="3.68" fill="#e020a0" />
<rect x="301.45" y="565.79" width="37.90" height="2.57" fill="#3010d0" />
<rect x="301.45" y="568.01" width="37.90" height="4.23" fill="#20e0f0" />
<rect x="301.45" y="571.89" width="37.90" height="6.45" fill="#90f820" />
<rect x="301.45" y="577.99" width="37.90" height="2.57" fill="#a020a0" />
<rect x="301.45" y="580.21" width="37.90" height="5.90" fill="#2010e0" />
<rect x="301.45" y="585.76" width="37.90" height="3.68" fill="#20e0a0" />
<rect x="301.45" y="589.09" width="37.90" height="6.23" fill="#b0f020" />
<rect x="301.45" y="590.00" width="37.90" height="4.23" fill="#e0f010" />
<rect x="301.45" y="593.88" width="37.90" height="3.12" fill="#ff9010" />
<rect x="301.45" y="596.66" width="37.90" height="3.12" fill="#f04010" />
<rect x="301.45" y="599.43" width="37.90" height="17.55" fill="#ff10e0" />
<rect x="301.45" y="616.63" width="37.90" height="3.12" fill="#6010e0" />
<rect x="301.45" y="619.40" width="37.90" height="6.45" fill="#2060f0" />
<rect x="301.45" y="625.50" width="37.90" height="11.45" fill="#10ffff" />
<rect x="301.45" y="636.60" width="37.90" height="4.23" fill="#30f840" />
<rect x="301.45" y="640.48" width="37.90" height="2.01" fill="#d0e020" />
<rect x="301.45" y="642.15" width="37.90" height="3.68" fill="#e81020" />
<rect x="301.45" y="645.48" width="37.90" height="3.12" fill="#f020b0" />
<rect x="301.45" y="648.25" width="37.90" height="4.23" fill="#5020e0" />
<rect x="301.45" y="652.13" width="37.90" height="2.57" fill="#20a0f0" />
<rect x="301.45" y="654.35" width="37.90" height="4.79" fill="#10f0f0" />
<rect x="301.45" y="658.79" width="37.90" height="3.12" fill="#30f840" />
<rect x="301.45" y="661.56" width="37.90" height="13.11" fill="#a0ff10" />
<rect x="301.45" y="674.32" width="37.90" height="2.57" fill="#e0e010" />
<rect x="301.45" y="676.54" width="37.90" height="4.23" fill="#ff9010" />
<rect x="301.45" y="680.42" width="37.90" height="3.68" fill="#f02030" />
<rect x="301.45" y="683.75" width="37.90" height="4.57" fill="#f010c0" />
<rect x="301.45" y="683.00" width="37.90" height="2.01" fill="#f02030" />
<rect x="301.45" y="684.66" width="37.90" height="4.79" fill="#f010c0" />
<rect x="301.45" y="689.10" width="37.90" height="2.57" fill="#3040e0" />
<rect x="301.45" y="691.32" width="37.90" height="3.12" fill="#20b0f0" />
<rect x="301.45" y="694.10" width="37.90" height="4.79" fill="#10f0c0" />
<rect x="301.45" y="698.53" width="37.90" height="5.90" fill="#30f820" />
<rect x="301.45" y="704.08" width="37.90" height="6.45" fill="#e0f010" />
<rect x="301.45" y="710.18" width="37.90" height="4.79" fill="#ff9010" />
<rect x="301.45" y="714.62" width="37.90" height="4.79" fill="#f05010" />
<rect x="301.45" y="719.06" width="37.90" height="9.23" fill="#f81040" />
<rect x="301.45" y="727.94" width="37.90" height="5.90" fill="#f010d0" />
<rect x="301.45" y="733.48" width="37.90" height="5.34" fill="#8010e0" />
<rect x="301.45" y="738.48" width="37.90" height="9.23" fill="#3010e0" />
<rect x="301.45" y="747.35" width="37.90" height="3.68" fill="#1030f0" />
<rect x="301.45" y="750.68" width="37.90" height="4.23" fill="#2090f0" />
<rect x="301.45" y="754.56" width="37.90" height="11.45" fill="#10ffff" />
<rect x="301.45" y="765.66" width="37.90" height="5.34" fill="#10f880" />
<rect x="301.45" y="770.65" width="37.90" height="10.67" fill="#20f820" />
<rect x="301.45" y="760.00" width="37.90" height="5.90" fill="#10ffff" />
<rect x="301.45" y="765.55" width="37.90" height="4.23" fill="#10f880" />
<rect x="301.45" y="769.43" width="37.90" height="10.89" fill="#10f820" />
<rect x="301.45" y="779.97" width="37.90" height="6.45" fill="#a0f810" />
<rect x="301.45" y="786.07" width="37.90" height="13.66" fill="#ffe010" />
<rect x="301.45" y="799.39" width="37.90" height="4.79" fill="#ffa008" />
<rect x="301.45" y="803.83" width="37.90" height="18.66" fill="#ff5008" />
<rect x="301.45" y="822.13" width="37.90" height="20.92" fill="#f80808" />
<rect x="339.05" y="499.77" width="37.90" height="8.12" fill="#888888" />
<rect x="339.05" y="507.54" width="37.90" height="3.12" fill="#a0f030" />
<rect x="339.05" y="510.31" width="37.90" height="3.12" fill="#f0d010" />
<rect x="339.05" y="513.09" width="37.90" height="2.01" fill="#e020a0" />
<rect x="339.05" y="514.75" width="37.90" height="2.57" fill="#3020c0" />
<rect x="339.05" y="516.97" width="37.90" height="7.01" fill="#20f060" />
<rect x="339.05" y="523.63" width="37.90" height="2.01" fill="#d0d030" />
<rect x="339.05" y="525.29" width="37.90" height="2.01" fill="#a04020" />
<rect x="339.05" y="526.96" width="37.90" height="2.57" fill="#d0b090" />
<rect x="339.05" y="529.18" width="37.90" height="2.57" fill="#a080d0" />
<rect x="339.05" y="531.39" width="37.90" height="3.68" fill="#50d8e0" />
<rect x="339.05" y="534.72" width="37.90" height="4.23" fill="#d02040" />
<rect x="339.05" y="538.61" width="37.90" height="2.57" fill="#c0c0b8" />
<rect x="339.05" y="540.83" width="37.90" height="1.46" fill="#506040" />
<rect x="339.05" y="541.94" width="37.90" height="3.12" fill="#70e060" />
<rect x="339.05" y="544.71" width="37.90" height="3.12" fill="#f0b010" />
<rect x="339.05" y="547.48" width="37.90" height="6.45" fill="#f80840" />
<rect x="339.05" y="553.58" width="37.90" height="1.46" fill="#5030d0" />
<rect x="339.05" y="554.69" width="37.90" height="3.68" fill="#80d0c0" />
<rect x="339.05" y="558.02" width="37.90" height="2.01" fill="#c03030" />
<rect x="339.05" y="559.69" width="37.90" height="9.23" fill="#d010f0" />
<rect x="339.05" y="568.56" width="37.90" height="2.01" fill="#4090e0" />
<rect x="339.05" y="570.23" width="37.90" height="2.57" fill="#a0f040" />
<rect x="339.05" y="572.45" width="37.90" height="2.57" fill="#d02010" />
<rect x="339.05" y="574.67" width="37.90" height="13.66" fill="#ff10e0" />
<rect x="339.05" y="587.98" width="37.90" height="3.68" fill="#3010e0" />
<rect x="339.05" y="591.31" width="37.90" height="4.01" fill="#20e0c0" />
<rect x="339.05" y="590.00" width="37.90" height="2.01" fill="#3010e0" />
<rect x="339.05" y="591.66" width="37.90" height="3.68" fill="#20e0c0" />
<rect x="339.05" y="594.99" width="37.90" height="2.57" fill="#f0b010" />
<rect x="339.05" y="597.21" width="37.90" height="3.12" fill="#f02040" />
<rect x="339.05" y="599.99" width="37.90" height="3.12" fill="#4020e0" />
<rect x="339.05" y="602.76" width="37.90" height="2.57" fill="#20d0f0" />
<rect x="339.05" y="604.98" width="37.90" height="4.79" fill="#20f860" />
<rect x="339.05" y="609.42" width="37.90" height="3.12" fill="#c0f020" />
<rect x="339.05" y="612.19" width="37.90" height="4.23" fill="#ff9010" />
<rect x="339.05" y="616.07" width="37.90" height="3.68" fill="#f02010" />
<rect x="339.05" y="619.40" width="37.90" height="7.01" fill="#ff1090" />
<rect x="339.05" y="626.06" width="37.90" height="7.01" fill="#d010e0" />
<rect x="339.05" y="632.72" width="37.90" height="4.23" fill="#2010e0" />
<rect x="339.05" y="636.60" width="37.90" height="3.12" fill="#2090f0" />
<rect x="339.05" y="639.37" width="37.90" height="2.57" fill="#10f0e0" />
<rect x="339.05" y="641.59" width="37.90" height="13.11" fill="#10f820" />
<rect x="339.05" y="654.35" width="37.90" height="7.56" fill="#b0f810" />
<rect x="339.05" y="661.56" width="37.90" height="6.45" fill="#ff9010" />
<rect x="339.05" y="667.67" width="37.90" height="7.56" fill="#ff5010" />
<rect x="339.05" y="674.88" width="37.90" height="2.57" fill="#f81080" />
<rect x="339.05" y="677.10" width="37.90" height="11.22" fill="#ff10e8" />
<rect x="339.05" y="683.00" width="37.90" height="4.23" fill="#ff10e8" />
<rect x="339.05" y="686.88" width="37.90" height="6.45" fill="#4010e0" />
<rect x="339.05" y="692.99" width="37.90" height="13.11" fill="#1020f0" />
<rect x="339.05" y="705.74" width="37.90" height="5.34" fill="#2070f0" />
<rect x="339.05" y="710.74" width="37.90" height="7.01" fill="#10ffff" />
<rect x="339.05" y="717.39" width="37.90" height="6.45" fill="#10f8a0" />
<rect x="339.05" y="723.50" width="37.90" height="15.33" fill="#10f820" />
<rect x="339.05" y="738.48" width="37.90" height="8.67" fill="#80f810" />
<rect x="339.05" y="746.80" width="37.90" height="10.89" fill="#c8f810" />
<rect x="339.05" y="757.34" width="37.90" height="21.99" fill="#ffe010" />
<rect x="339.05" y="778.97" width="37.90" height="2.35" fill="#ff5008" />
<rect x="339.05" y="760.00" width="37.90" height="20.32" fill="#ffe010" />
<rect x="339.05" y="779.97" width="37.90" height="16.44" fill="#ff5008" />
<rect x="339.05" y="796.06" width="37.90" height="46.99" fill="#f80808" />
<rect x="376.65" y="499.77" width="37.90" height="10.89" fill="#888888" />
<rect x="376.65" y="510.31" width="37.90" height="2.01" fill="#a0a098" />
<rect x="376.65" y="511.98" width="37.90" height="2.57" fill="#c0d890" />
<rect x="376.65" y="514.20" width="37.90" height="2.57" fill="#908070" />
<rect x="376.65" y="516.42" width="37.90" height="2.01" fill="#b0d8a0" />
<rect x="376.65" y="518.08" width="37.90" height="2.01" fill="#a08870" />
<rect x="376.65" y="519.74" width="37.90" height="3.12" fill="#c0d890" />
<rect x="376.65" y="522.52" width="37.90" height="3.12" fill="#e05030" />
<rect x="376.65" y="525.29" width="37.90" height="1.46" fill="#6080c0" />
<rect x="376.65" y="526.40" width="37.90" height="4.23" fill="#50f060" />
<rect x="376.65" y="530.29" width="37.90" height="4.23" fill="#d81020" />
<rect x="376.65" y="534.17" width="37.90" height="2.01" fill="#40a0d0" />
<rect x="376.65" y="535.83" width="37.90" height="2.57" fill="#60f040" />
<rect x="376.65" y="538.05" width="37.90" height="4.79" fill="#e0f010" />
<rect x="376.65" y="542.49" width="37.90" height="1.46" fill="#f09020" />
<rect x="376.65" y="543.60" width="37.90" height="3.12" fill="#4020b0" />
<rect x="376.65" y="546.37" width="37.90" height="4.23" fill="#90e080" />
<rect x="376.65" y="550.26" width="37.90" height="2.57" fill="#503090" />
<rect x="376.65" y="552.48" width="37.90" height="2.57" fill="#30d0d0" />
<rect x="376.65" y="554.69" width="37.90" height="4.23" fill="#40f820" />
<rect x="376.65" y="558.58" width="37.90" height="3.68" fill="#e0f010" />
<rect x="376.65" y="561.91" width="37.90" height="2.57" fill="#f06010" />
<rect x="376.65" y="564.13" width="37.90" height="2.01" fill="#4060d0" />
<rect x="376.65" y="565.79" width="37.90" height="4.79" fill="#10f0e0" />
<rect x="376.65" y="570.23" width="37.90" height="3.12" fill="#40f840" />
<rect x="376.65" y="573.00" width="37.90" height="3.68" fill="#e0f010" />
<rect x="376.65" y="576.33" width="37.90" height="2.57" fill="#f05010" />
<rect x="376.65" y="578.55" width="37.90" height="9.23" fill="#ff10e0" />
<rect x="376.65" y="587.42" width="37.90" height="2.57" fill="#6040e0" />
<rect x="376.65" y="589.64" width="37.90" height="5.68" fill="#10f0e0" />
<rect x="376.65" y="590.00" width="37.90" height="2.57" fill="#10f0e0" />
<rect x="376.65" y="592.22" width="37.90" height="3.12" fill="#20f0a0" />
<rect x="376.65" y="594.99" width="37.90" height="6.45" fill="#e0f010" />
<rect x="376.65" y="601.10" width="37.90" height="4.23" fill="#e81010" />
<rect x="376.65" y="604.98" width="37.90" height="3.12" fill="#f010a0" />
<rect x="376.65" y="607.75" width="37.90" height="5.90" fill="#9010e8" />
<rect x="376.65" y="613.30" width="37.90" height="3.68" fill="#2020e0" />
<rect x="376.65" y="616.63" width="37.90" height="3.68" fill="#2070f0" />
<rect x="376.65" y="619.96" width="37.90" height="3.12" fill="#20e0f0" />
<rect x="376.65" y="622.73" width="37.90" height="3.68" fill="#30f830" />
<rect x="376.65" y="626.06" width="37.90" height="2.57" fill="#b0e020" />
<rect x="376.65" y="628.28" width="37.90" height="5.90" fill="#f01020" />
<rect x="376.65" y="633.83" width="37.90" height="5.34" fill="#ff1080" />
<rect x="376.65" y="638.82" width="37.90" height="5.90" fill="#f010d0" />
<rect x="376.65" y="644.37" width="37.90" height="2.57" fill="#6020e0" />
<rect x="376.65" y="646.58" width="37.90" height="2.57" fill="#20b0f0" />
<rect x="376.65" y="648.80" width="37.90" height="5.34" fill="#10f0c0" />
<rect x="376.65" y="653.80" width="37.90" height="5.34" fill="#70f810" />
<rect x="376.65" y="658.79" width="37.90" height="6.45" fill="#ff9010" />
<rect x="376.65" y="664.89" width="37.90" height="3.68" fill="#f05010" />
<rect x="376.65" y="668.22" width="37.90" height="10.89" fill="#f81040" />
<rect x="376.65" y="678.76" width="37.90" height="9.56" fill="#f010d0" />
<rect x="376.65" y="683.00" width="37.90" height="7.01" fill="#e010f0" />
<rect x="376.65" y="689.66" width="37.90" height="14.22" fill="#8010f8" />
<rect x="376.65" y="703.53" width="37.90" height="8.67" fill="#3010f0" />
<rect x="376.65" y="711.85" width="37.90" height="10.89" fill="#1070f0" />
<rect x="376.65" y="722.39" width="37.90" height="5.34" fill="#20b0f8" />
<rect x="376.65" y="727.38" width="37.90" height="2.57" fill="#10f0f0" />
<rect x="376.65" y="729.60" width="37.90" height="10.34" fill="#10f8a0" />
<rect x="376.65" y="739.58" width="37.90" height="9.23" fill="#10f820" />
<rect x="376.65" y="748.46" width="37.90" height="11.45" fill="#80f810" />
<rect x="376.65" y="759.56" width="37.90" height="10.89" fill="#c8f810" />
<rect x="376.65" y="770.10" width="37.90" height="11.22" fill="#ff9808" />
<rect x="376.65" y="760.00" width="37.90" height="10.34" fill="#c8f810" />
<rect x="376.65" y="769.99" width="37.90" height="65.81" fill="#ff9808" />
<rect x="376.65" y="835.45" width="37.90" height="3.68" fill="#f06008" />
<rect x="376.65" y="838.78" width="37.90" height="4.27" fill="#f80808" />
<rect x="414.25" y="499.77" width="37.90" height="12.00" fill="#888888" />
<rect x="414.25" y="511.42" width="37.90" height="2.01" fill="#909088" />
<rect x="414.25" y="513.09" width="37.90" height="2.01" fill="#d0d080" />
<rect x="414.25" y="514.75" width="37.90" height="2.01" fill="#908070" />
<rect x="414.25" y="516.42" width="37.90" height="3.12" fill="#a84020" />
<rect x="414.25" y="519.19" width="37.90" height="3.12" fill="#f0a050" />
<rect x="414.25" y="521.96" width="37.90" height="3.12" fill="#d82030" />
<rect x="414.25" y="524.74" width="37.90" height="3.68" fill="#c0d880" />
<rect x="414.25" y="528.07" width="37.90" height="2.01" fill="#a01830" />
<rect x="414.25" y="529.73" width="37.90" height="2.01" fill="#5030b0" />
<rect x="414.25" y="531.39" width="37.90" height="3.12" fill="#30e0a0" />
<rect x="414.25" y="534.17" width="37.90" height="2.57" fill="#a0f030" />
<rect x="414.25" y="536.39" width="37.90" height="3.12" fill="#f0e010" />
<rect x="414.25" y="539.16" width="37.90" height="2.01" fill="#e05020" />
<rect x="414.25" y="540.83" width="37.90" height="2.01" fill="#5040c0" />
<rect x="414.25" y="542.49" width="37.90" height="3.68" fill="#30a0f0" />
<rect x="414.25" y="545.82" width="37.90" height="2.57" fill="#c0e070" />
<rect x="414.25" y="548.04" width="37.90" height="3.68" fill="#4010a8" />
<rect x="414.25" y="551.37" width="37.90" height="2.57" fill="#30e0c0" />
<rect x="414.25" y="553.58" width="37.90" height="5.34" fill="#80f810" />
<rect x="414.25" y="558.58" width="37.90" height="4.79" fill="#e0f010" />
<rect x="414.25" y="563.02" width="37.90" height="2.01" fill="#f08010" />
<rect x="414.25" y="564.68" width="37.90" height="2.57" fill="#3010b0" />
<rect x="414.25" y="566.90" width="37.90" height="5.90" fill="#10f0c0" />
<rect x="414.25" y="572.45" width="37.90" height="4.23" fill="#30f820" />
<rect x="414.25" y="576.33" width="37.90" height="3.68" fill="#e0f010" />
<rect x="414.25" y="579.66" width="37.90" height="2.57" fill="#f04010" />
<rect x="414.25" y="581.88" width="37.90" height="10.34" fill="#ff10e0" />
<rect x="414.25" y="591.86" width="37.90" height="3.46" fill="#4010e0" />
<rect x="414.25" y="590.00" width="37.90" height="2.57" fill="#ff10e0" />
<rect x="414.25" y="592.22" width="37.90" height="2.57" fill="#4010e0" />
<rect x="414.25" y="594.44" width="37.90" height="5.90" fill="#10f0c0" />
<rect x="414.25" y="599.99" width="37.90" height="7.01" fill="#e0f010" />
<rect x="414.25" y="606.64" width="37.90" height="3.12" fill="#e81010" />
<rect x="414.25" y="609.42" width="37.90" height="5.90" fill="#f010a0" />
<rect x="414.25" y="614.96" width="37.90" height="3.68" fill="#8010e0" />
<rect x="414.25" y="618.29" width="37.90" height="5.34" fill="#2010e8" />
<rect x="414.25" y="623.29" width="37.90" height="3.12" fill="#20c0f0" />
<rect x="414.25" y="626.06" width="37.90" height="15.88" fill="#30f810" />
<rect x="414.25" y="641.59" width="37.90" height="2.01" fill="#d06010" />
<rect x="414.25" y="643.26" width="37.90" height="12.55" fill="#f81040" />
<rect x="414.25" y="655.46" width="37.90" height="4.23" fill="#f010c0" />
<rect x="414.25" y="659.34" width="37.90" height="5.34" fill="#8010f0" />
<rect x="414.25" y="664.34" width="37.90" height="2.57" fill="#20b0f0" />
<rect x="414.25" y="666.56" width="37.90" height="4.23" fill="#10f0c0" />
<rect x="414.25" y="670.44" width="37.90" height="5.34" fill="#70f810" />
<rect x="414.25" y="675.43" width="37.90" height="5.34" fill="#ff9010" />
<rect x="414.25" y="680.42" width="37.90" height="3.68" fill="#f05010" />
<rect x="414.25" y="683.75" width="37.90" height="4.57" fill="#f81040" />
<rect x="414.25" y="683.00" width="37.90" height="2.57" fill="#f05010" />
<rect x="414.25" y="685.22" width="37.90" height="10.34" fill="#f81040" />
<rect x="414.25" y="695.20" width="37.90" height="7.01" fill="#f010d0" />
<rect x="414.25" y="701.86" width="37.90" height="15.33" fill="#8010f8" />
<rect x="414.25" y="716.84" width="37.90" height="7.01" fill="#3010f0" />
<rect x="414.25" y="723.50" width="37.90" height="9.78" fill="#1070f0" />
<rect x="414.25" y="732.93" width="37.90" height="4.23" fill="#20b0f8" />
<rect x="414.25" y="736.81" width="37.90" height="3.12" fill="#10f0f0" />
<rect x="414.25" y="739.58" width="37.90" height="12.55" fill="#10f8a0" />
<rect x="414.25" y="751.79" width="37.90" height="8.12" fill="#10f830" />
<rect x="414.25" y="759.56" width="37.90" height="9.23" fill="#80f810" />
<rect x="414.25" y="768.43" width="37.90" height="8.67" fill="#c8f810" />
<rect x="414.25" y="776.75" width="37.90" height="4.57" fill="#ff9808" />
<rect x="414.25" y="760.00" width="37.90" height="8.12" fill="#80f810" />
<rect x="414.25" y="767.77" width="37.90" height="9.23" fill="#c8f810" />
<rect x="414.25" y="776.64" width="37.90" height="58.60" fill="#ff9808" />
<rect x="414.25" y="834.89" width="37.90" height="7.01" fill="#ff5008" />
<rect x="414.25" y="841.55" width="37.90" height="1.50" fill="#f80808" />
</g>
<path d="M57.1,843.2 L57.1,499.0 L470.7,499.0 L470.7,843.2" fill="none" stroke="#000" stroke-width="1.45"/>
<line x1="76.00" y1="843.30" x2="452.00" y2="843.30" stroke="#b00000" stroke-width="1.2"/>
<text class="sans" x="50.2" y="847.10" text-anchor="end">0</text>
<line x1="57.10" y1="774.24" x2="61.60" y2="774.24" stroke="#000" stroke-width="1.3"/>
<line x1="470.70" y1="774.24" x2="466.20" y2="774.24" stroke="#000" stroke-width="1.3"/>
<text class="sans" x="50.2" y="778.14" text-anchor="end">0.2</text>
<line x1="57.10" y1="705.28" x2="61.60" y2="705.28" stroke="#000" stroke-width="1.3"/>
<line x1="470.70" y1="705.28" x2="466.20" y2="705.28" stroke="#000" stroke-width="1.3"/>
<text class="sans" x="50.2" y="709.18" text-anchor="end">0.4</text>
<line x1="57.10" y1="636.32" x2="61.60" y2="636.32" stroke="#000" stroke-width="1.3"/>
<line x1="470.70" y1="636.32" x2="466.20" y2="636.32" stroke="#000" stroke-width="1.3"/>
<text class="sans" x="50.2" y="640.22" text-anchor="end">0.6</text>
<line x1="57.10" y1="567.36" x2="61.60" y2="567.36" stroke="#000" stroke-width="1.3"/>
<line x1="470.70" y1="567.36" x2="466.20" y2="567.36" stroke="#000" stroke-width="1.3"/>
<text class="sans" x="50.2" y="571.26" text-anchor="end">0.8</text>
<text class="sans" transform="translate(15.4,663.8) rotate(-90)" text-anchor="middle" textLength="183" lengthAdjust="spacingAndGlyphs">Relative abundance (all with &gt;0.10% plotted)</text>
<text class="sans xb" transform="translate(91.80,851.50) rotate(56)" >SRSS1</text>
<text class="sans xb" transform="translate(129.40,851.50) rotate(56)" >SRSS2</text>
<text class="sans xb" transform="translate(167.00,851.50) rotate(56)" >SRSS3</text>
<text class="sans xb" transform="translate(204.60,851.50) rotate(56)" >SRSS4</text>
<text class="sans xb" transform="translate(242.20,851.50) rotate(56)" >R1</text>
<text class="sans xb" transform="translate(279.80,851.50) rotate(56)" >R2</text>
<text class="sans xb" transform="translate(317.40,851.50) rotate(56)" >HO2.1</text>
<text class="sans xb" transform="translate(355.00,851.50) rotate(56)" >HO2.2</text>
<text class="sans xb" transform="translate(392.60,851.50) rotate(56)" >SoilB</text>
<text class="sans xb" transform="translate(430.20,851.50) rotate(56)" >SoilC</text>
<rect x="626.40" y="501.05" width="31.70" height="5.50" fill="#e11414" />
<text class="serb sb" x="620.9" y="506.90" text-anchor="end" textLength="37.5" lengthAdjust="spacingAndGlyphs">Spirochaeta</text>
<rect x="626.40" y="511.05" width="31.70" height="5.50" fill="#e65a14" />
<text class="ser sb" x="620.9" y="516.90" text-anchor="end" textLength="35.8" lengthAdjust="spacingAndGlyphs">Geobacter</text>
<rect x="626.40" y="521.05" width="31.70" height="5.50" fill="#f0a01e" />
<text class="ser sb" x="620.9" y="526.90" text-anchor="end" textLength="55.1" lengthAdjust="spacingAndGlyphs">Flavobacterium</text>
<rect x="626.40" y="531.05" width="31.70" height="5.50" fill="#fae132" />
<text class="ser sb" x="620.9" y="536.90" text-anchor="end" textLength="64.0" lengthAdjust="spacingAndGlyphs">Syntrophorhabdus</text>
<rect x="626.40" y="541.05" width="31.70" height="5.50" fill="#c8fa32" />
<text class="serb sb" x="620.9" y="546.90" text-anchor="end" textLength="60.8" lengthAdjust="spacingAndGlyphs">Anaeromyxobacter</text>
<rect x="626.40" y="551.05" width="31.70" height="5.50" fill="#82f032" />
<text class="serb sb" x="620.9" y="556.90" text-anchor="end" textLength="43.9" lengthAdjust="spacingAndGlyphs">Sideroxydans</text>
<rect x="626.40" y="561.05" width="31.70" height="5.50" fill="#46eb32" />
<text class="ser sb" x="620.9" y="566.90" text-anchor="end" textLength="52.3" lengthAdjust="spacingAndGlyphs">Sulfuricurvum</text>
<rect x="626.40" y="571.05" width="31.70" height="5.50" fill="#28eb50" />
<text class="ser sb" x="620.9" y="576.90" text-anchor="end" textLength="41.1" lengthAdjust="spacingAndGlyphs">Syntrophus</text>
<rect x="626.40" y="581.05" width="31.70" height="5.50" fill="#28eb8c" />
<text class="serb sb" x="620.9" y="586.90" text-anchor="end" textLength="60.4" lengthAdjust="spacingAndGlyphs">Novosphingobium</text>
<rect x="626.40" y="591.05" width="31.70" height="5.50" fill="#28e6be" />
<text class="ser sb" x="620.9" y="596.90" text-anchor="end" textLength="49.6" lengthAdjust="spacingAndGlyphs">Pseudomonas</text>
<rect x="626.40" y="601.05" width="31.70" height="5.50" fill="#28ebeb" />
<text class="ser sb" x="620.9" y="606.90" text-anchor="end" textLength="39.0" lengthAdjust="spacingAndGlyphs">Crenothrix</text>
<rect x="626.40" y="611.05" width="31.70" height="5.50" fill="#28aae1" />
<text class="ser sb" x="620.9" y="616.90" text-anchor="end" textLength="58.2" lengthAdjust="spacingAndGlyphs">Bradyrhizobium</text>
<rect x="626.40" y="621.05" width="31.70" height="5.50" fill="#1e6ee1" />
<text class="ser sb" x="620.9" y="626.90" text-anchor="end" textLength="36.4" lengthAdjust="spacingAndGlyphs">Bryobacter</text>
<rect x="626.40" y="631.05" width="31.70" height="5.50" fill="#1428d2" />
<text class="ser sb" x="620.9" y="636.90" text-anchor="end" textLength="33.3" lengthAdjust="spacingAndGlyphs">Smithella</text>
<rect x="626.40" y="641.05" width="31.70" height="5.50" fill="#3214c8" />
<text class="ser sb" x="620.9" y="646.90" text-anchor="end" textLength="31.8" lengthAdjust="spacingAndGlyphs">Opitutus</text>
<rect x="626.40" y="651.05" width="31.70" height="5.50" fill="#6e14d2" />
<text class="ser sb" x="620.9" y="656.90" text-anchor="end" textLength="36.4" lengthAdjust="spacingAndGlyphs">Nitrospira</text>
<rect x="626.40" y="661.05" width="31.70" height="5.50" fill="#aa14d7" />
<text class="ser sb" x="620.9" y="666.90" text-anchor="end" textLength="42.8" lengthAdjust="spacingAndGlyphs">Thiobacillus</text>
<rect x="626.40" y="671.05" width="31.70" height="5.50" fill="#e614d2" />
<text class="ser sb" x="620.9" y="676.90" text-anchor="end" textLength="42.8" lengthAdjust="spacingAndGlyphs">Anaerolinea</text>
<rect x="626.40" y="681.05" width="31.70" height="5.50" fill="#e1148c" />
<text class="serb sb" x="620.9" y="686.90" text-anchor="end" textLength="52.3" lengthAdjust="spacingAndGlyphs">Ignavibacterium</text>
<rect x="626.40" y="691.05" width="31.70" height="5.50" fill="#dc1446" />
<text class="ser sb" x="620.9" y="696.90" text-anchor="end" textLength="55.5" lengthAdjust="spacingAndGlyphs">Dechloromonas</text>
<rect x="626.40" y="701.05" width="31.70" height="5.50" fill="#888888" />
<text class="ser sb" x="620.9" y="706.90" text-anchor="end" textLength="65.7" lengthAdjust="spacingAndGlyphs">&lt;0.10% abundance</text>
</svg></body></html>
